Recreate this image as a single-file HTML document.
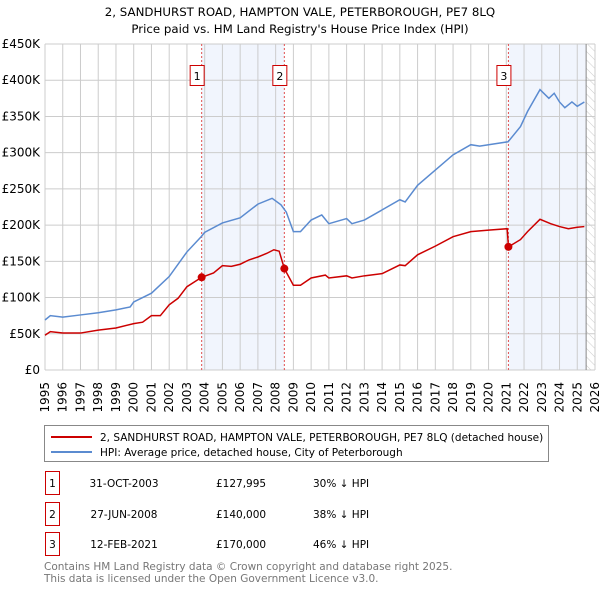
<!DOCTYPE html>
<html><head><meta charset="utf-8">
<style>
body{margin:0;background:#fff;font-family:"Liberation Sans","DejaVu Sans",sans-serif;}
svg text{font-family:"DejaVu Sans","Liberation Sans",sans-serif;}
</style></head>
<body>
<svg width="600" height="590" viewBox="0 0 600 590" xmlns="http://www.w3.org/2000/svg">
<defs>
<pattern id="hatch" width="6" height="6" patternUnits="userSpaceOnUse" patternTransform="rotate(-45)">
<line x1="0" y1="0" x2="0" y2="6" stroke="#ccc" stroke-width="1"/>
</pattern>
</defs>
<text x="300" y="16" text-anchor="middle" font-size="11.8" fill="#000">2, SANDHURST ROAD, HAMPTON VALE, PETERBOROUGH, PE7 8LQ</text>
<text x="300" y="33" text-anchor="middle" font-size="11.8" fill="#000">Price paid vs. HM Land Registry's House Price Index (HPI)</text>
<g id="plot"></g>
<g id="legend">
<rect x="44.5" y="425.5" width="504" height="36" fill="#fff" stroke="#888"/>
<line x1="51" y1="437" x2="92" y2="437" stroke="#cc0000" stroke-width="2"/>
<text x="100" y="441" font-size="10.5">2, SANDHURST ROAD, HAMPTON VALE, PETERBOROUGH, PE7 8LQ (detached house)</text>
<line x1="51" y1="452" x2="92" y2="452" stroke="#5b8bd0" stroke-width="2"/>
<text x="100" y="456" font-size="10.5">HPI: Average price, detached house, City of Peterborough</text>
</g>
<g id="table" font-size="10.5"></g>
<text x="44" y="570" font-size="10.5" fill="#777">Contains HM Land Registry data © Crown copyright and database right 2025.</text>
<text x="44" y="582" font-size="10.5" fill="#777">This data is licensed under the Open Government Licence v3.0.</text>
</svg>
<script>
const yTicks=[0,50000,100000,150000,200000,250000,300000,350000,400000,450000];
const yTickLabels=["£0","£50K","£100K","£150K","£200K","£250K","£300K","£350K","£400K","£450K"];
const xYears=[1995,1996,1997,1998,1999,2000,2001,2002,2003,2004,2005,2006,2007,2008,2009,2010,2011,2012,2013,2014,2015,2016,2017,2018,2019,2020,2021,2022,2023,2024,2025,2026];
const hpiT=[1995,1995.3,1996,1997,1998,1999,1999.8,2000,2001,2002,2003,2003.8,2004,2005,2006,2007,2007.8,2008.3,2008.6,2009,2009.4,2010,2010.6,2011,2012,2012.3,2013,2014,2015,2015.3,2016,2017,2018,2019,2019.5,2020,2021.1,2021.8,2022.2,2022.9,2023.4,2023.7,2024,2024.3,2024.7,2025,2025.4];
const hpiV=[69,75,73,76,79,83,87,94,106,129,163,184,190,203,210,229,237,228,218,191,191,207,214,202,209,202,207,221,235,232,255,276,297,311,309,311,315,336,357,387,375,382,370,362,370,364,370];
const priceT=[1995,1995.3,1996,1997,1998,1999,2000,2000.5,2001,2001.5,2002,2002.5,2003,2003.83,2004.5,2005,2005.5,2006,2006.5,2007,2007.5,2007.9,2008.2,2008.49,2009,2009.4,2010,2010.8,2011,2012,2012.3,2013,2014,2015,2015.3,2016,2017,2018,2019,2020,2021.05,2021.12,2021.8,2022.2,2022.9,2023.5,2024,2024.5,2025,2025.4];
const priceV=[48,53,51,51,55,58,64,66,75,75,90,99,115,128,134,144,143,146,152,156,161,166,164,140,117,117,127,131,127,130,127,130,133,145,144,159,171,184,191,193,195,170,180,191,208,202,198,195,197,198];
const saleT=[2003.83,2008.49,2021.12];
const saleV=[127995,140000,170000];
const saleLabels=["1","2","3"];
const saleDates=["31-OCT-2003","27-JUN-2008","12-FEB-2021"];
const salePrices=["£127,995","£140,000","£170,000"];
const salePct=["30% ↓ HPI","38% ↓ HPI","46% ↓ HPI"];

const X0=45,X1=595,Y0=370,Y1=44;
const xs=t=>X0+(t-1995)/(2026-1995)*(X1-X0);
const ys=v=>Y0-v/450000*(Y0-Y1);
const NS="http://www.w3.org/2000/svg";
const plot=document.getElementById('plot');
function mk(tag,attrs,parent){const e=document.createElementNS(NS,tag);for(const k in attrs)e.setAttribute(k,attrs[k]);(parent||plot).appendChild(e);return e;}

for(let i=0;i<saleT.length;i++){
  const a=saleT[i], b=i==0?saleT[1]:2025.5;
  if(i==1)continue;
  const r=mk('rect',{x:xs(a),y:Y1,width:xs(b)-xs(a),height:Y0-Y1,fill:'#eef3fc',opacity:0.8});
  
  
}
const h=mk('rect',{x:xs(2025.5),y:Y1,width:X1-xs(2025.5),height:Y0-Y1,fill:'url(#hatch)'});


yTicks.forEach((v,i)=>{
  const l=mk('line',{x1:X0,x2:X1,y1:ys(v),y2:ys(v),stroke:'#ccc','stroke-width':1});
  
  
  const t=mk('text',{x:40,y:ys(v)+4,'text-anchor':'end','font-size':12});
  t.textContent=yTickLabels[i];
  
  
});
xYears.forEach(yr=>{
  const l=mk('line',{x1:xs(yr),x2:xs(yr),y1:Y1,y2:Y0,stroke:'#ccc','stroke-width':1});
  
  
  const t=mk('text',{x:0,y:0,'text-anchor':'end','font-size':12,transform:`translate(${xs(yr)+4},${Y0+12}) rotate(-90)`});
  t.textContent=yr;
  
  
});
const fl=mk('line',{x1:xs(2025.5),x2:xs(2025.5),y1:Y1,y2:Y0,stroke:'#888','stroke-width':1});


saleT.forEach((t,i)=>{
  const l=mk('line',{x1:xs(t),x2:xs(t),y1:Y1,y2:Y0,stroke:'#e05050','stroke-width':1,'stroke-dasharray':'2,2'});
  
  
  const r=mk('rect',{x:xs(t)-11.5,y:65.5,width:14,height:20,fill:'#fff',stroke:'#cc0000'});
  
  
  const tx=mk('text',{x:xs(t)-4.5,y:80,'text-anchor':'middle','font-size':11});
  tx.textContent=saleLabels[i];
  
  
});
const hp=mk('polyline',{points:hpiT.map((t,i)=>xs(t)+','+ys(hpiV[i]*1000)).join(' '),fill:'none',stroke:'#5b8bd0','stroke-width':1.5});


const pp=mk('polyline',{points:priceT.map((t,i)=>xs(t)+','+ys(priceV[i]*1000)).join(' '),fill:'none',stroke:'#cc0000','stroke-width':1.5});


saleT.forEach((t,i)=>{
  const c=mk('circle',{cx:xs(t),cy:ys(saleV[i]),r:4,fill:'#cc0000'});
  
  
});
const tb=document.getElementById('table');
const rowY=[486,517,547];
saleT.forEach((t,i)=>{
  const y=rowY[i];
  const r=mk('rect',{x:45.5,y:y-14.5,width:14,height:23,fill:'#fff',stroke:'#cc0000'},tb);
  
  
  const a=mk('text',{x:52.5,y:y+1,'text-anchor':'middle'},tb);a.textContent=saleLabels[i];
  
  
  const d=mk('text',{x:124,y:y+1,'text-anchor':'middle'},tb);d.textContent=saleDates[i];
  
  
  const p=mk('text',{x:216,y:y+1},tb);p.textContent=salePrices[i];
  
  
  const q=mk('text',{x:313,y:y+1},tb);q.textContent=salePct[i];
  
  
});
</script>
</body></html>
